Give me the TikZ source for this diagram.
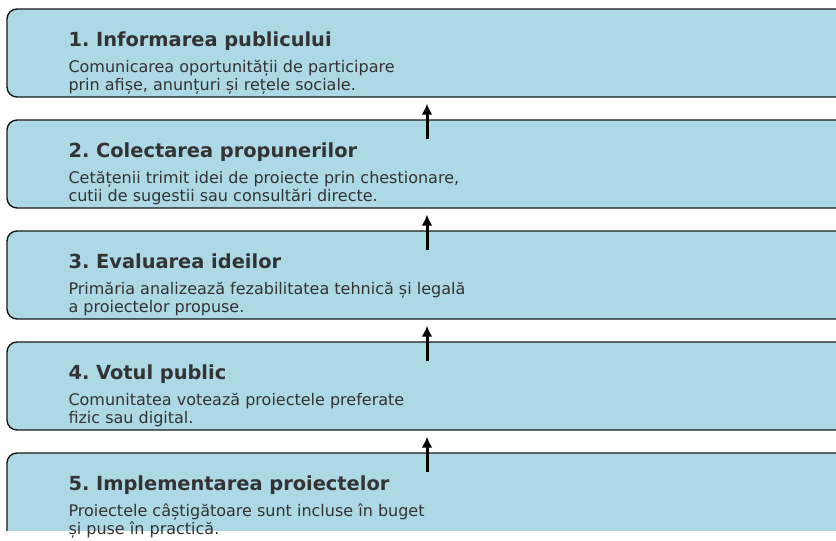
\documentclass[tikz,border=0pt]{standalone}
\usepackage{fontspec}
\setmainfont{DejaVu Sans}
\frenchspacing
\usetikzlibrary{positioning}
\usetikzlibrary{arrows.meta}
\definecolor{boxblue}{HTML}{ADD8E6}
\definecolor{textgray}{HTML}{333333}

\begin{document}
\begin{tikzpicture}[x=1pt,y=1pt,node distance=111pt,on grid,
   stage/.style={draw=black!90,line width=1.4pt,fill=boxblue,rounded corners=10pt,
      minimum width=840pt,minimum height=88pt,inner sep=0pt},
   title/.style={anchor=base west,inner sep=0pt,text=textgray,
      font=\fontsize{19.4}{23}\selectfont\bfseries},
   desc/.style={anchor=base west,inner sep=0pt,text=textgray,
      font=\fontsize{16}{18}\selectfont},
   up/.style={-{Latex[length=11pt,width=11pt]},line width=3pt,
      shorten <=-20pt,shorten >=6pt}]
   \useasboundingbox (0,0) rectangle (836,-541);
   % the five stages, last one cut at the bottom
   \begin{scope}
      \clip (0,0) rectangle (836,-530);
      \node[stage] (s1) at (427,-53) {};
      \node[stage] (s2) [below=of s1] {};
      \node[stage] (s3) [below=of s2] {};
      \node[stage] (s4) [below=of s3] {};
      \node[stage] (s5) [below=of s4] {};
   \end{scope}
   % texts
   \node[title] (t1) at ([xshift=62pt,yshift=7pt]s1.west) {1. Informarea publicului};
   \node[desc] (d1) at ([xshift=62pt,yshift=-19.5pt]s1.west) {Comunicarea oportunității de participare};
   \node[desc] (e1) at ([yshift=-18.3pt]d1.base west) {prin afișe, anunțuri și rețele sociale.};
   \node[title] (t2) at ([xshift=62pt,yshift=7pt]s2.west) {2. Colectarea propunerilor};
   \node[desc] (d2) at ([xshift=62pt,yshift=-19.5pt]s2.west) {Cetățenii trimit idei de proiecte prin chestionare,};
   \node[desc] (e2) at ([yshift=-18.3pt]d2.base west) {cutii de sugestii sau consultări directe.};
   \node[title] (t3) at ([xshift=62pt,yshift=7pt]s3.west) {3. Evaluarea ideilor};
   \node[desc] (d3) at ([xshift=62pt,yshift=-19.5pt]s3.west) {Primăria analizează fezabilitatea tehnică și legală};
   \node[desc] (e3) at ([yshift=-18.3pt]d3.base west) {a proiectelor propuse.};
   \node[title] (t4) at ([xshift=62pt,yshift=7pt]s4.west) {4. Votul public};
   \node[desc] (d4) at ([xshift=62pt,yshift=-19.5pt]s4.west) {Comunitatea votează proiectele preferate};
   \node[desc] (e4) at ([yshift=-18.3pt]d4.base west) {fizic sau digital.};
   \node[title] (t5) at ([xshift=62pt,yshift=7pt]s5.west) {5. Implementarea proiectelor};
   \node[desc] (d5) at ([xshift=62pt,yshift=-19.5pt]s5.west) {Proiectele câștigătoare sunt incluse în buget};
   \node[desc] (e5) at ([yshift=-18.3pt]d5.base west) {și puse în practică.};
   % arrows
   \draw[up] (s2.north) -- (s1.south);
   \draw[up] (s3.north) -- (s2.south);
   \draw[up] (s4.north) -- (s3.south);
   \draw[up] (s5.north) -- (s4.south);
\end{tikzpicture}
\end{document}
